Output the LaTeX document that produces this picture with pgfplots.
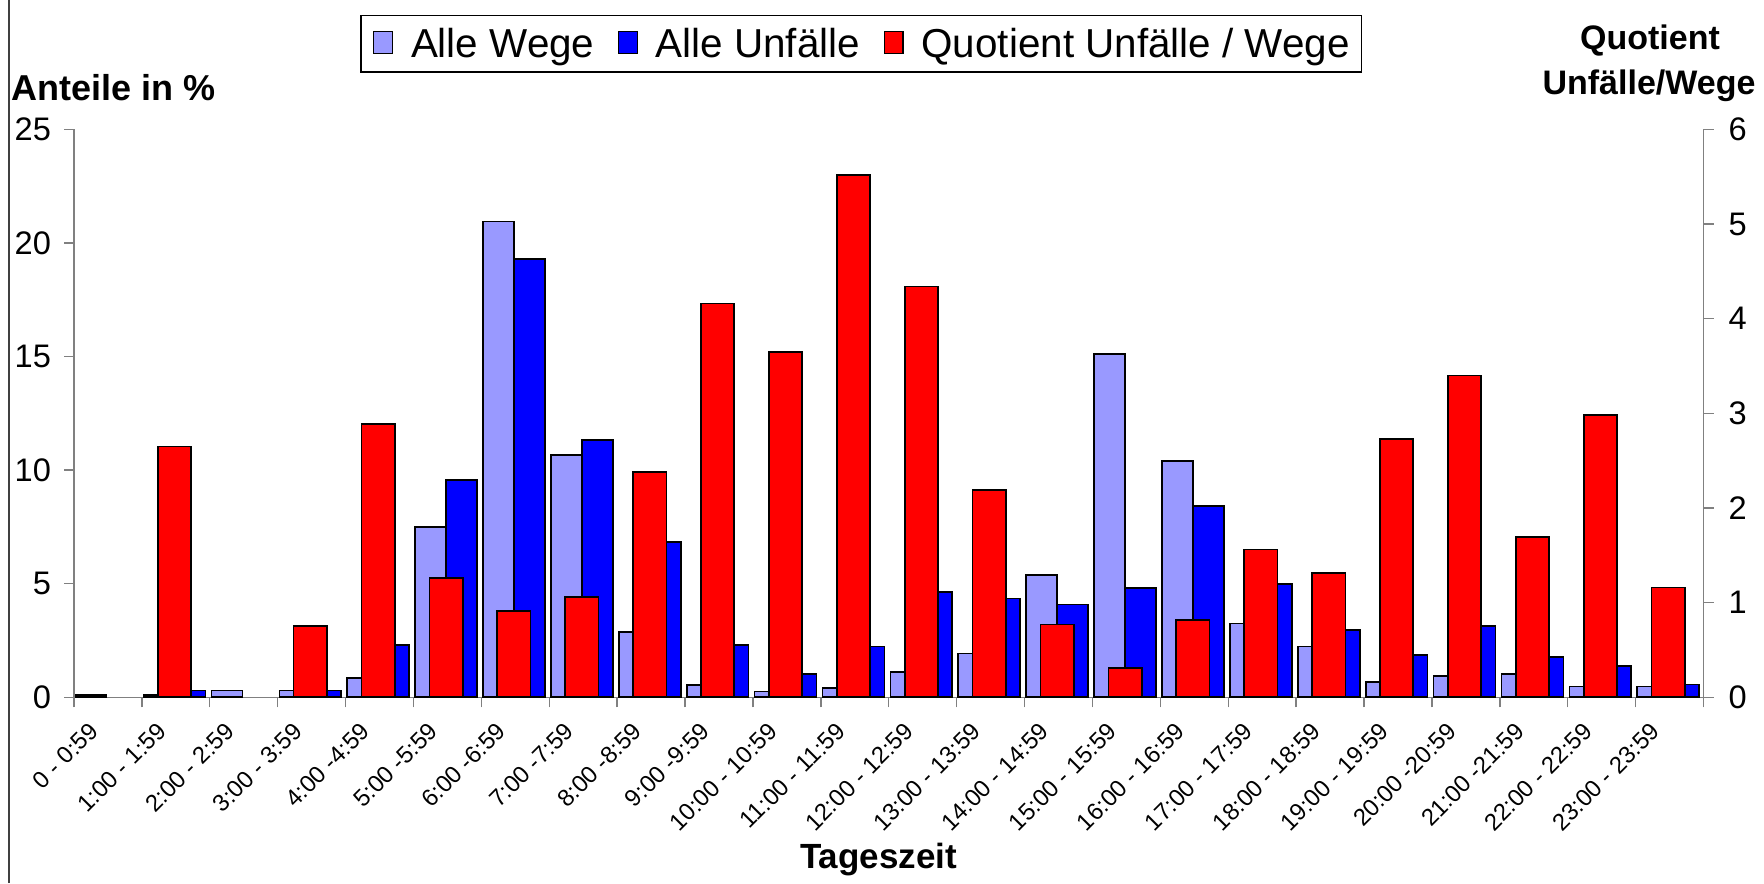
\documentclass[border=0pt]{standalone}
\usepackage{pgfplots}
\pgfplotsset{compat=1.18}
\usepackage{fontspec}
\setmainfont{Liberation Sans}
\definecolor{wege}{HTML}{9999FF}
\definecolor{unf}{HTML}{0000FF}
\definecolor{quot}{HTML}{FF0000}
\definecolor{axgray}{HTML}{808080}
\pgfplotsset{
  barlegend/.style={legend image code/.code={\draw[##1,line width=0.6pt] (0pt,-5pt) rectangle (9.4pt,6pt);}},
}
\begin{document}
\begin{tikzpicture}
\useasboundingbox (0pt,0pt) rectangle (882pt,441.5pt);
\draw[black!75, line width=0.7pt] (4.5pt,0pt) -- (4.5pt,441.5pt);
\begin{axis}[
  at={(37pt,92.85pt)}, anchor=south west,
  scale only axis, width=814.75pt, height=284pt,
  xmin=-0.5, xmax=23.5, ymin=0, ymax=25,
  ybar, bar width=0.455,
  axis y line*=left, axis x line*=bottom,
  axis line style={draw=axgray, line width=0.7pt},
  tick align=outside, major tick length=5pt,
  tick style={draw=axgray, line width=0.7pt},
  ytick={0,5,...,25},
  /pgf/number format/assume math mode=true,
  yticklabel style={font=\fontsize{16.3}{19}\selectfont},
  yticklabel shift=3pt,
  xtick={-0.5,0.5,...,23.5}, xticklabels={},
  extra x ticks={0,1,...,23},
  extra x tick labels={0 - 0:59,1:00 - 1:59,2:00 - 2:59,3:00 - 3:59,4:00 -4:59,5:00 -5:59,6:00 -6:59,7:00 -7:59,8:00 -8:59,9:00 -9:59,10:00 - 10:59,11:00 - 11:59,12:00 - 12:59,13:00 - 13:59,14:00 - 14:59,15:00 - 15:59,16:00 - 16:59,17:00 - 17:59,18:00 - 18:59,19:00 - 19:59,20:00 -20:59,21:00 -21:59,22:00 - 22:59,23:00 - 23:59},
  extra x tick style={major tick length=0pt},
  xticklabel style={font=\fontsize{11.9}{14}\selectfont, xshift=-10pt, yshift=-7pt, rotate=45, anchor=north east},
  barlegend,
  legend columns=3,
  legend cell align=left,
  legend style={at={(0.4832,1.1504)}, anchor=center, draw=black, line width=0.6pt,
    font=\fontsize{20.2}{24}\selectfont, inner xsep=6pt, inner ysep=6pt,
    nodes={inner sep=0pt},
    /tikz/every odd column/.append style={column sep=9pt},
    /tikz/every even column/.append style={column sep=11.7pt}},
]
\addplot[fill=wege, draw=black, line width=0.85pt, bar shift=-0.248] coordinates {
(0,0.1) (1,0.1) (2,0.3) (3,0.3) (4,0.84) (5,7.49) (6,20.94) (7,10.65) (8,2.86) (9,0.55) (10,0.25) (11,0.4)
(12,1.1) (13,1.93) (14,5.37) (15,15.1) (16,10.4) (17,3.25) (18,2.23) (19,0.67) (20,0.94) (21,1.04) (22,0.47) (23,0.47)};
\addlegendentry{Alle Wege}
\addplot[fill=unf, draw=black, line width=0.85pt, bar shift=0.208] coordinates {
(1,0.3) (3,0.3) (4,2.31) (5,9.55) (6,19.3) (7,11.31) (8,6.83) (9,2.31) (10,1.04) (11,2.23)
(12,4.65) (13,4.35) (14,4.08) (15,4.82) (16,8.42) (17,4.99) (18,2.97) (19,1.87) (20,3.15) (21,1.77) (22,1.39) (23,0.57)};
\addlegendentry{Alle Unfälle}
\addlegendimage{fill=quot, draw=black}
\addlegendentry{Quotient Unfälle / Wege}
\end{axis}
\begin{axis}[
  at={(37pt,92.85pt)}, anchor=south west,
  scale only axis, width=814.75pt, height=284pt,
  xmin=-0.5, xmax=23.5, ymin=0, ymax=6,
  ybar, bar width=0.49,
  axis y line*=right, axis x line=none,
  axis line style={draw=axgray, line width=0.7pt},
  tick align=outside, major tick length=5pt,
  tick style={draw=axgray, line width=0.7pt},
  ytick={0,1,...,6},
  /pgf/number format/assume math mode=true,
  yticklabel style={font=\fontsize{16.3}{19}\selectfont},
  yticklabel shift=4pt,
]
\addplot[fill=quot, draw=black, line width=0.85pt, bar shift=-0.02] coordinates {
(1,2.65) (3,0.75) (4,2.89) (5,1.26) (6,0.91) (7,1.06) (8,2.38) (9,4.16) (10,3.65) (11,5.52)
(12,4.34) (13,2.19) (14,0.77) (15,0.31) (16,0.82) (17,1.56) (18,1.31) (19,2.73) (20,3.40) (21,1.69) (22,2.98) (23,1.16)};
\end{axis}
\node[font=\bfseries\fontsize{18}{21}\selectfont, anchor=base] at (57pt,391pt) {Anteile in \%};
\node[font=\bfseries\fontsize{17}{20}\selectfont, anchor=base] at (825pt,416.7pt) {Quotient};
\node[font=\bfseries\fontsize{17}{20}\selectfont, anchor=base] at (824.5pt,394.2pt) {Unfälle/Wege};
\node[font=\bfseries\fontsize{17.5}{20}\selectfont, anchor=base] at (439.3pt,7.25pt) {Tageszeit};
\end{tikzpicture}
\end{document}
